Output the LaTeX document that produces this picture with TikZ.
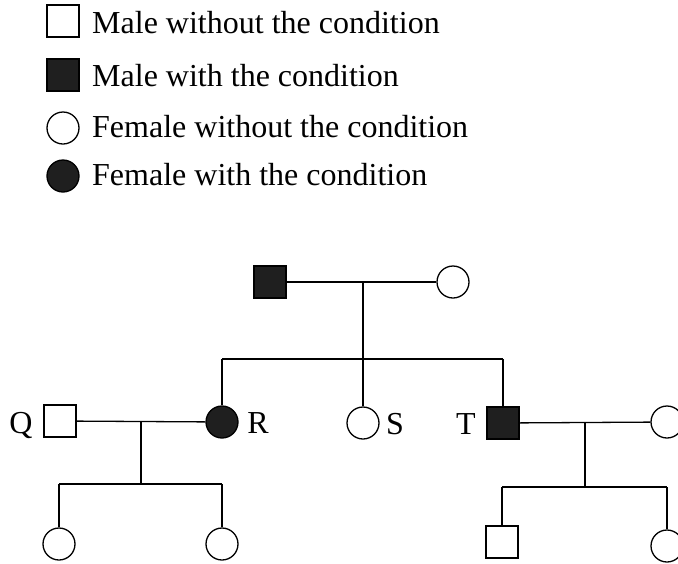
\documentclass[tikz,border=0pt]{standalone}
\usepackage{fontspec}
\setmainfont{Liberation Serif}
\begin{document}
\begin{tikzpicture}[x=1pt,y=-1pt,
  ln/.style={line width=1.3pt},
  male/.style={draw,line width=1.3pt,rectangle,minimum size=32pt,inner sep=0pt},
  female/.style={draw,line width=1.3pt,circle,minimum size=32pt,inner sep=0pt},
  aff/.style={fill=black!88},
  txt/.style={font=\fontsize{32}{38}\selectfont,inner sep=0pt,anchor=base west},
  lbl/.style={font=\fontsize{32}{38}\selectfont,inner sep=0pt,anchor=base}]
\useasboundingbox (0,0) rectangle (678,563);
\clip (0,0) rectangle (678,563);
% legend
\node[male] (k1) at (63,21) {};
\node[txt] (t1) at (92,33) {Male without the condition};
\node[male,aff] (k2) at (63,75) {};
\node[txt] (t2) at (92,86) {Male with the condition};
\node[female] (k3) at (63,128) {};
\node[txt] (t3) at (92,137) {Female without the condition};
\node[female,aff] (k4) at (63,176) {};
\node[txt] (t4) at (92,185) {Female with the condition};
% generation I
\node[male,aff] (gf) at (270,282) {};
\node[female] (gm) at (453,282) {};
\coordinate (m1) at (363,282);
\coordinate (s1) at (363,359);
\coordinate (sl) at (222,359);
\coordinate (sr) at (503,359);
% generation II
\node[female,aff] (R) at (222,422) {};
\node[female] (S) at (363,423) {};
\node[male,aff] (T) at (503,423) {};
\node[male] (Q) at (60,421) {};
\node[female] (W) at (667,422) {};
\node[lbl] (lQ) at (21,433) {Q};
\node[lbl] (lR) at (258,433) {R};
\node[lbl] (lS) at (395,434) {S};
\node[lbl] (lT) at (466,434) {T};
% generation III
\coordinate (m2) at (141,421);
\coordinate (s2) at (141,484);
\coordinate (s2l) at (59,484);
\coordinate (s2r) at (222,484);
\node[female] (c1) at (59,544) {};
\node[female] (c2) at (222,544) {};
\coordinate (m3) at (585,422);
\coordinate (s3) at (585,487);
\coordinate (s3l) at (502,487);
\coordinate (s3r) at (667,487);
\node[male] (c3) at (502,542) {};
\node[female] (c4) at (667,546) {};
% connectors
\draw[ln] (gf) -- (gm);
\draw[ln] (m1) -- (s1);
\draw[ln] (sl) -- (sr);
\draw[ln] (sl) -- (R);
\draw[ln] (s1) -- (S);
\draw[ln] (sr) -- (T);
\draw[ln] (Q) -- (R);
\draw[ln] (m2) -- (s2);
\draw[ln] (s2l) -- (s2r);
\draw[ln] (s2l) -- (c1);
\draw[ln] (s2r) -- (c2);
\draw[ln] (T) -- (W);
\draw[ln] (m3) -- (s3);
\draw[ln] (s3l) -- (s3r);
\draw[ln] (s3l) -- (c3);
\draw[ln] (s3r) -- (c4);
\end{tikzpicture}
\end{document}
